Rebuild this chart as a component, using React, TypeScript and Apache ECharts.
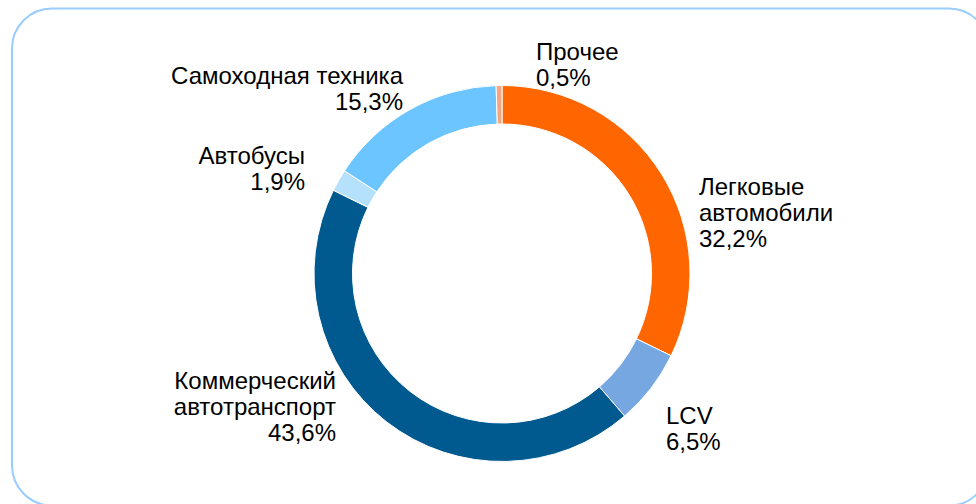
import React, { useEffect, useRef } from "react";
import * as echarts from "echarts";

const categories = [
  "Легковые\nавтомобили",
  "LCV",
  "Коммерческий\nавтотранспорт",
  "Автобусы",
  "Самоходная техника",
  "Прочее",
];
const shares = [32.2, 6.5, 43.6, 1.9, 15.3, 0.5];
const colors = ["#FF6600", "#77A7E0", "#005A8F", "#B5E1FC", "#6CC5FE", "#F4A582"];

// label anchor positions (layout only)
const labelPos: { x: number; y: number; align: "left" | "right" }[] = [
  { x: 699, y: 212, align: "left" },
  { x: 666, y: 428, align: "left" },
  { x: 336, y: 406, align: "right" },
  { x: 305, y: 168, align: "right" },
  { x: 403, y: 88, align: "right" },
  { x: 536, y: 64, align: "left" },
];

export default function App() {
  const ref = useRef<HTMLDivElement>(null);
  useEffect(() => {
    if (!ref.current) return;
    const chart = echarts.init(ref.current, null, { renderer: "svg" });
    chart.setOption({
      animation: false,
      backgroundColor: "#ffffff",
      graphic: [
        {
          type: "rect",
          shape: { x: 12, y: 8.5, width: 977, height: 497, r: 40 },
          style: { fill: "none", stroke: "#99CCFF", lineWidth: 2 },
          silent: true,
        },
      ],
      series: [
        {
          type: "pie",
          center: [502, 273.5],
          radius: [149.5, 188],
          startAngle: 90,
          clockwise: true,
          itemStyle: { borderColor: "#ffffff", borderWidth: 1 },
          label: {
            show: true,
            color: "#000000",
            fontFamily: "'Liberation Sans', Arial, sans-serif",
            fontSize: 24,
            lineHeight: 26,
            formatter: (p: any) =>
              p.name + "\n" + Number(p.value).toFixed(1).replace(".", ",") + "%",
          },
          labelLine: { show: false },
          labelLayout: (params: any) => {
            const lp = labelPos[params.dataIndex];
            return { x: lp.x, y: lp.y, align: lp.align, verticalAlign: "middle" };
          },
          emphasis: { disabled: true },
          data: categories.map((name, i) => ({
            name,
            value: shares[i],
            itemStyle: { color: colors[i] },
            label: { align: labelPos[i].align },
          })),
        },
      ],
    });
    return () => chart.dispose();
  }, []);
  return (
    <div
      ref={ref}
      style={{ position: "absolute", left: 0, top: 0, width: 976, height: 504 }}
    />
  );
}
